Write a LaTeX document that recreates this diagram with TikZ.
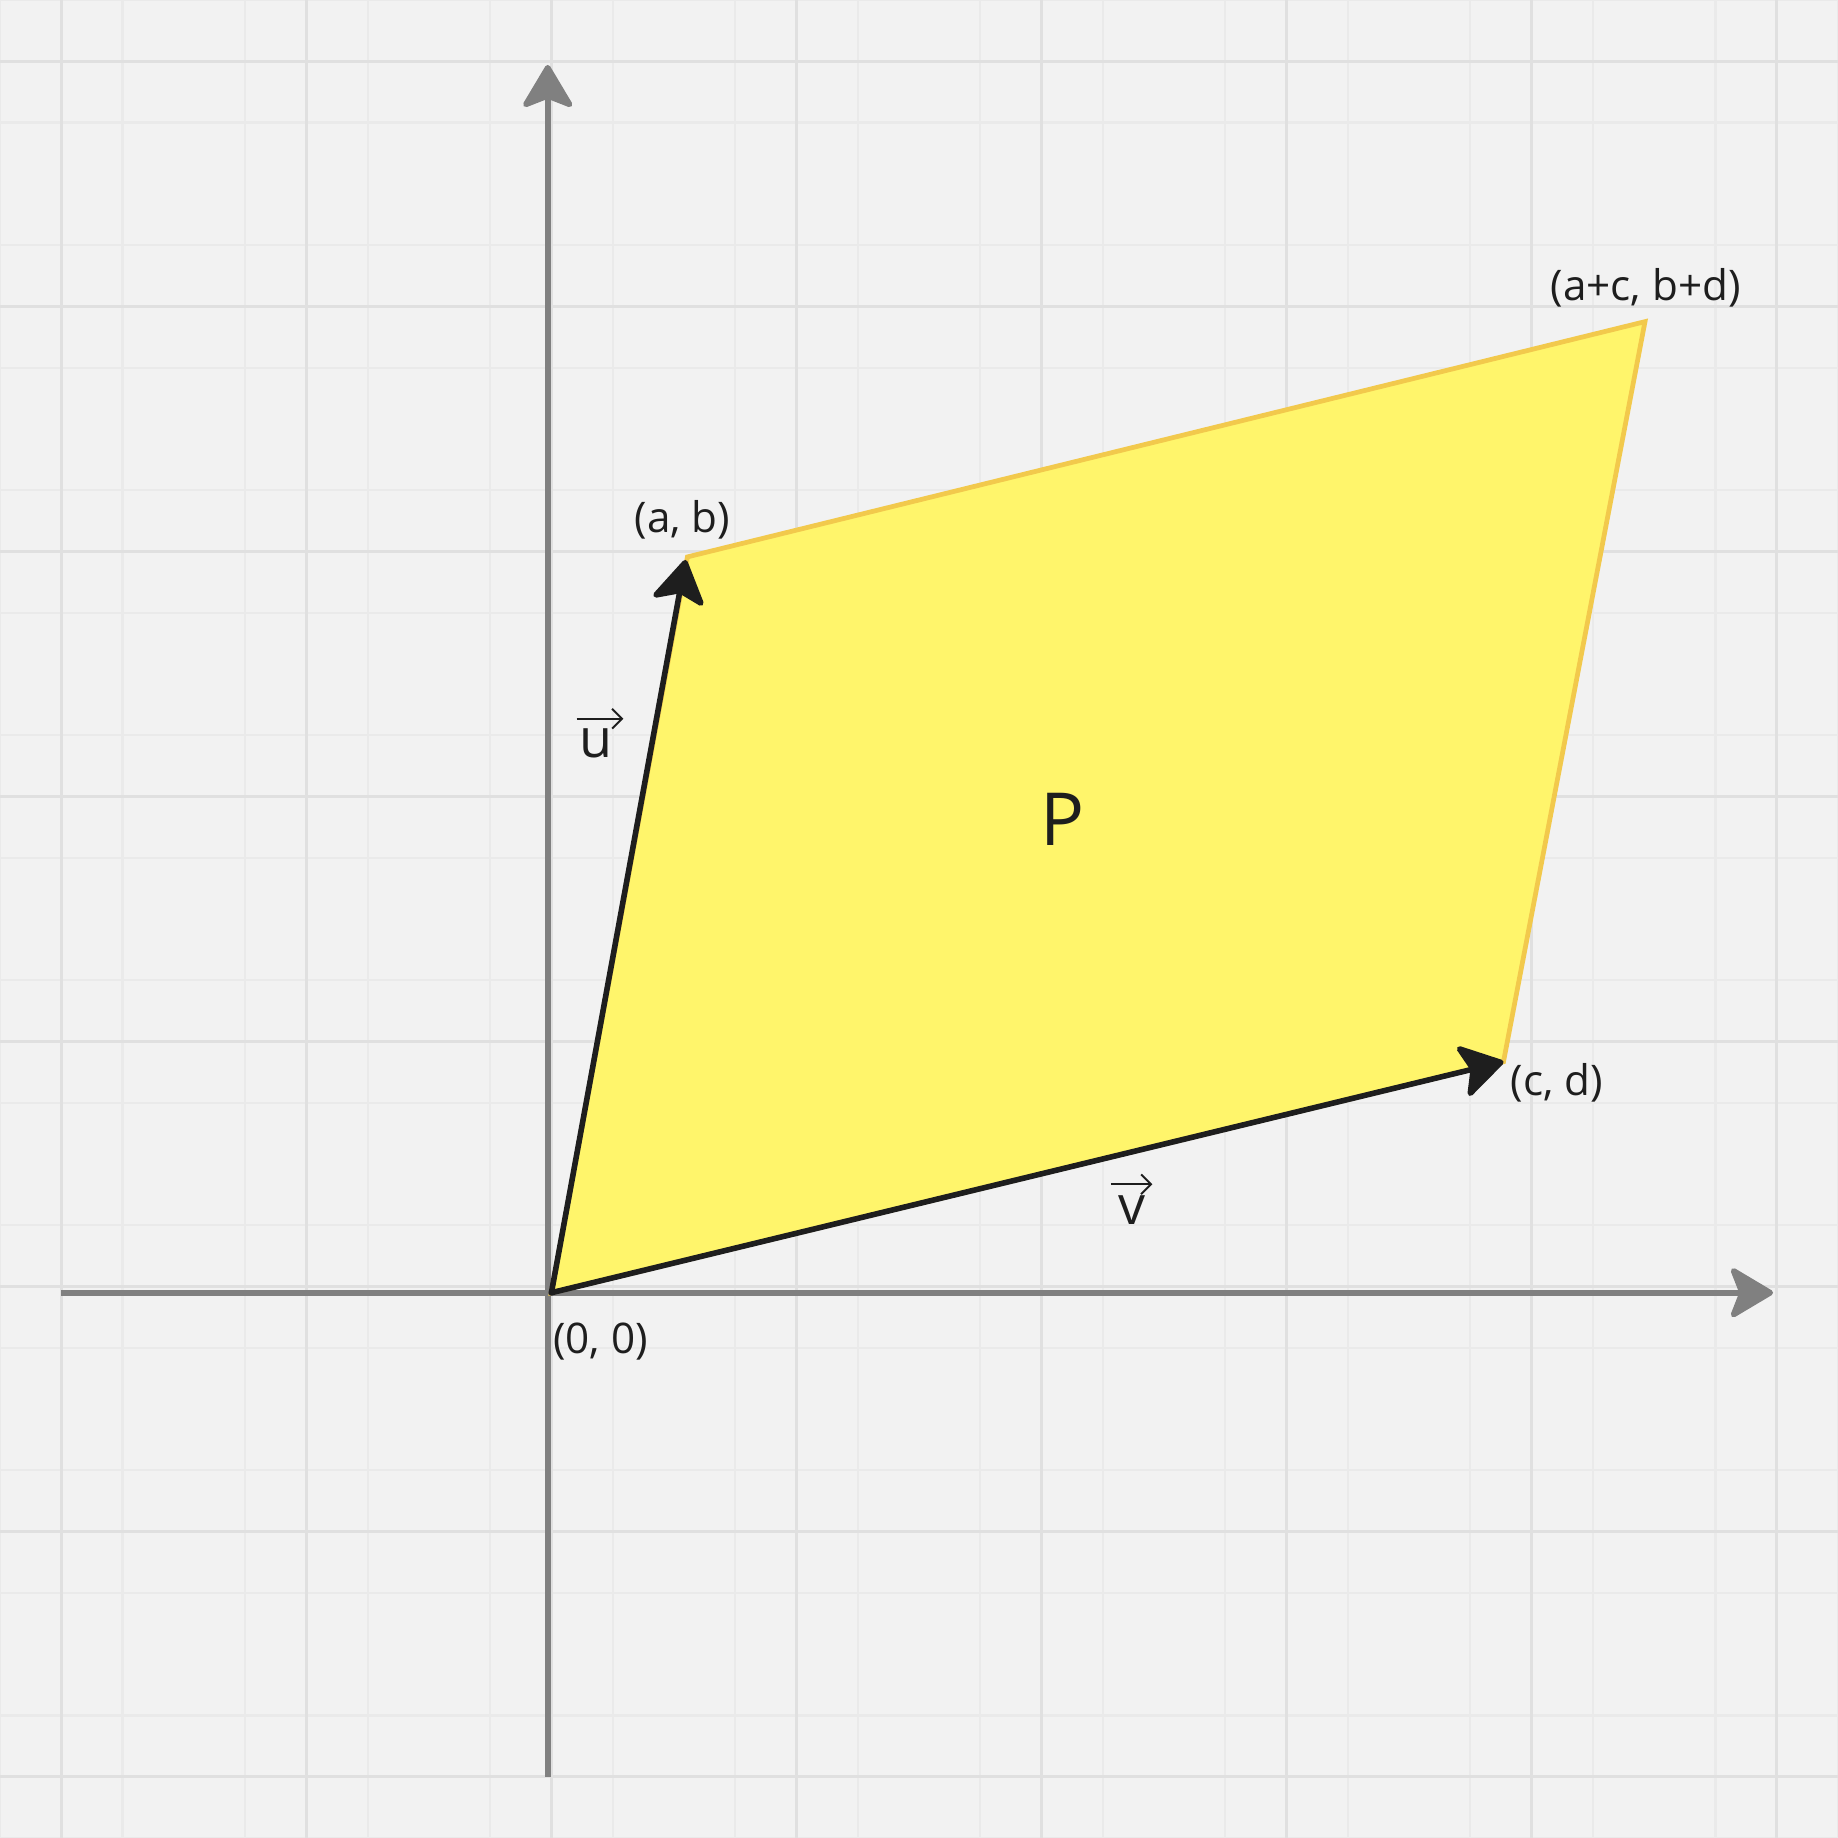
\documentclass[tikz,border=0pt]{standalone}
\usepackage{fontspec}
\setmainfont{Open Sans}
\usepackage{tikz}
\usetikzlibrary{arrows.meta, positioning, calc}
\definecolor{PlotBack}{HTML}{F2F2F2}
\definecolor{GridMinor}{HTML}{EAEAEA}
\definecolor{GridMajor}{HTML}{E0E0E0}
\definecolor{AxisGray}{HTML}{808080}
\definecolor{AreaFill}{HTML}{FFF56B}
\definecolor{AreaEdge}{HTML}{F2C94C}
\definecolor{InkBlack}{HTML}{1E1E1E}
\tikzset{
    % Grid styles
    gridminor/.style={
        draw=GridMinor,
        line width=0.5pt
    },
    gridmajor/.style={
        draw=GridMajor,
        line width=0.7pt
    },
    % Arrow styles
    axisarrow/.style={
        -{Stealth[length=11pt,width=13pt,inset=2.5pt,round]},
        line width=1.3pt,
        AxisGray
    },
    vecarrow/.style={
        -{Stealth[length=11pt,width=13.5pt,inset=2.5pt,round]},
        line width=1.3pt,
        line cap=round,
        line join=round,
        InkBlack
    },
    overarrow/.style={
        -{Straight Barb[length=2.3pt,width=4.6pt]},
        line width=0.45pt,
        InkBlack
    },
    % Region style
    areabox/.style={
        fill=AreaFill,
        draw=AreaEdge,
        line width=1.1pt
    },
    % Label styles
    pointlabel/.style={
        inner sep=0pt,
        text=InkBlack,
        font=\fontsize{9.8}{12}\selectfont
    },
    veclabel/.style={
        inner sep=0pt,
        anchor=base,
        text=InkBlack,
        font=\fontsize{12.5}{15}\selectfont
    },
    arealabel/.style={
        inner sep=0pt,
        text=InkBlack,
        font=\fontsize{17}{20}\selectfont
    }
}

\begin{document}
\begin{tikzpicture}[x=0.5cm, y=0.5cm]
    % Background and grid
    \fill[PlotBack] (0,0) rectangle (30,30);
    \useasboundingbox (0,0) rectangle (30,30);
    \draw[gridminor] (0,0) grid (30,30);
    \foreach \k in {1,5,...,29} {
        \draw[gridmajor] (\k,0) -- (\k,30);
        \draw[gridmajor] (0,\k) -- (30,\k);
    }

    % Axes
    \coordinate (xstart) at (1,8.9);
    \coordinate (xend) at (28.94,8.9);
    \coordinate (ystart) at (8.94,1);
    \coordinate (yend) at (8.94,28.94);
    \draw[axisarrow] (xstart) -- (xend);
    \draw[axisarrow] (ystart) -- (yend);

    % Corners of the parallelogram
    \coordinate (O) at (9.0,8.9);
    \coordinate (A) at (11.22,20.91);
    \coordinate (C) at (24.54,12.67);
    \coordinate (S) at (26.85,24.75);
    \coordinate (Atip) at (11.19,20.86);
    \draw[areabox] (O) -- (A) -- (S) -- (C) -- cycle;

    % Vectors
    \draw[vecarrow] (O) -- (Atip);
    \draw[vecarrow] (O) -- (C);

    % Labels
    \node[pointlabel] (labO) at (9.80,8.10) {(0, 0)};
    \node[pointlabel] (labA) at (11.14,21.51) {(a, b)};
    \node[pointlabel] (labC) at (25.41,12.33) {(c, d)};
    \node[pointlabel] (labS) at (26.86,25.31) {(a+c, b+d)};
    \node[arealabel] (labP) at (17.34,16.62) {P};
    \node[veclabel] (labu) at (9.73,17.63) {u};
    \node[veclabel] (labv) at (18.47,10.01) {v};
    \draw[overarrow] ([xshift=-0.5pt,yshift=2.2pt]labu.north west) -- ([xshift=2.3pt,yshift=2.2pt]labu.north east);
    \draw[overarrow] ([xshift=-1.5pt,yshift=2.5pt]labv.north west) -- ([xshift=1.5pt,yshift=2.5pt]labv.north east);
\end{tikzpicture}
\end{document}
